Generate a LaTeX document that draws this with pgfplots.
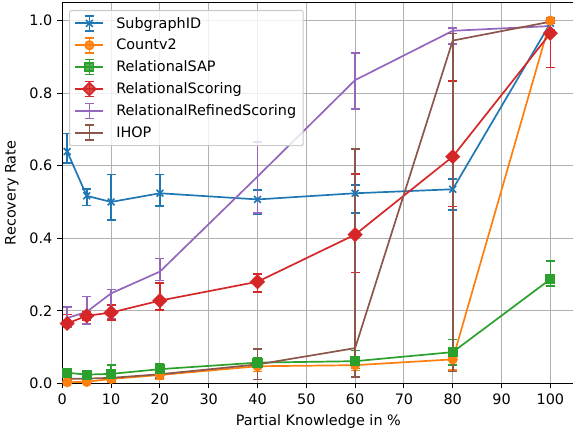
\documentclass[border=0pt]{standalone}
\usepackage{pgfplots}
\pgfplotsset{compat=1.18}
\usepackage{fontspec}
\setmainfont{DejaVu Sans}
\definecolor{c0}{HTML}{1F77B4}
\definecolor{c1}{HTML}{FF7F0E}
\definecolor{c2}{HTML}{2CA02C}
\definecolor{c3}{HTML}{D62728}
\definecolor{c4}{HTML}{9467BD}
\definecolor{c5}{HTML}{8C564B}
\definecolor{gridc}{HTML}{B0B0B0}
\definecolor{legc}{HTML}{CCCCCC}
\begin{document}
\begin{tikzpicture}[font=\fontsize{14.4}{17.3}\selectfont]
\begin{axis}[
  width=512.2pt, height=380.7pt, scale only axis,
  xmin=0, xmax=104.95, ymin=0, ymax=1.0497,
  xtick={0,10,...,100},
  ytick={0,0.2,0.4,0.6,0.8,1.0},
  yticklabel style={xshift=-1.5pt, /pgf/number format/.cd, fixed, fixed zerofill, precision=1},
  xticklabel style={yshift=-2.5pt},
  /pgf/number format/assume math mode=true,
  tick pos=left, tick align=outside,
  major tick length=4.9pt,
  tick style={line width=1.1pt, black},
  axis line style={line width=1.1pt},
  grid=major,
  major grid style={color=gridc, line width=1.1pt},
  xlabel={Partial Knowledge in \%},
  ylabel={Recovery Rate},
  xlabel style={yshift=-3pt},
  ylabel style={yshift=4pt},
  every axis plot/.append style={line width=1.7pt},
  error bars/y dir=both, error bars/y explicit,
  error bars/error bar style={line width=1.6pt},
  error bars/error mark options={line width=1.6pt, mark size=4.5pt, rotate=90},
  legend style={at={(0.0131,0.9808)}, anchor=north west,
    draw=legc, fill=white, fill opacity=0.8, text opacity=1, rounded corners=2pt,
    line width=1.1pt, row sep=5.2pt, inner xsep=5pt, inner ysep=4.5pt,
    /tikz/every odd column/.append style={column sep=10pt}},
  legend cell align=left,
  legend image code/.code={
    \draw[#1, mark=none] (0pt,0pt) -- (28pt,0pt);
    \draw[#1, mark=none] (14pt,-7.5pt) -- (14pt,7.5pt);
    \draw[#1, mark=none] (9.5pt,-7.5pt) -- (18.5pt,-7.5pt);
    \draw[#1, mark=none] (9.5pt,7.5pt) -- (18.5pt,7.5pt);
    \draw[#1, only marks] plot coordinates {(14pt,0pt)};
  },
]
\coordinate (O) at (rel axis cs:0,0);

\addplot[color=c0, mark=x, mark size=4.8pt, mark options={line width=1.6pt}] coordinates {
(1,0.639) += (0,0.050) -= (0,0.032)
(5,0.517) += (0,0.018) -= (0,0.027)
(10,0.500) += (0,0.076) -= (0,0.050)
(20,0.524) += (0,0.052) -= (0,0.035)
(40,0.507) += (0,0.026) -= (0,0.041)
(60,0.524) += (0,0.023) -= (0,0.055)
(80,0.535) += (0,0.028) -= (0,0.057)
(100,0.993) += (0,0.015) -= (0,0.025)
};
\addlegendentry{SubgraphID}

\addplot[color=c1, mark=*, mark size=4.2pt] coordinates {
(1,0.003) += (0,0.004) -= (0,0.003)
(5,0.004) += (0,0.005) -= (0,0.004)
(10,0.012) += (0,0.008) -= (0,0.008)
(20,0.023) += (0,0.027) -= (0,0.011)
(40,0.047) += (0,0.014) -= (0,0.015)
(60,0.050) += (0,0.015) -= (0,0.015)
(80,0.066) += (0,0.030) -= (0,0.030)
(100,1.000) += (0,0.004) -= (0,0.004)
};
\addlegendentry{Countv2}

\addplot[color=c2, mark=square*, mark size=4.2pt] coordinates {
(1,0.029) += (0,0.010) -= (0,0.010)
(5,0.024) += (0,0.008) -= (0,0.008)
(10,0.026) += (0,0.024) -= (0,0.010)
(20,0.039) += (0,0.014) -= (0,0.012)
(40,0.057) += (0,0.012) -= (0,0.012)
(60,0.061) += (0,0.029) -= (0,0.020)
(80,0.086) += (0,0.035) -= (0,0.036)
(100,0.287) += (0,0.050) -= (0,0.018)
};
\addlegendentry{RelationalSAP}

\addplot[color=c3, mark=square*, mark size=4.5pt, mark options={rotate=45}] coordinates {
(1,0.165) += (0,0.025) -= (0,0.010)
(5,0.186) += (0,0.012) -= (0,0.012)
(10,0.195) += (0,0.021) -= (0,0.020)
(20,0.228) += (0,0.049) -= (0,0.026)
(40,0.280) += (0,0.021) -= (0,0.029)
(60,0.410) += (0,0.167) -= (0,0.105)
(80,0.625) += (0,0.209) -= (0,0.138)
(100,0.965) += (0,0.030) -= (0,0.094)
};
\addlegendentry{RelationalScoring}

\addplot[color=c4, mark=none] coordinates {
(1,0.180) += (0,0.030) -= (0,0.025)
(5,0.197) += (0,0.042) -= (0,0.034)
(10,0.248) += (0,0.011) -= (0,0.069)
(20,0.308) += (0,0.036) -= (0,0.025)
(40,0.570) += (0,0.096) -= (0,0.100)
(60,0.836) += (0,0.074) -= (0,0.080)
(80,0.972) += (0,0.007) -= (0,0.036)
(100,0.985) += (0,0.010) -= (0,0.010)
};
\addlegendentry{RelationalRefinedScoring}

\addplot[color=c5, mark=none] coordinates {
(1,0.012) += (0,0.005) -= (0,0.005)
(5,0.013) += (0,0.005) -= (0,0.005)
(10,0.015) += (0,0.006) -= (0,0.006)
(20,0.025) += (0,0.010) -= (0,0.010)
(40,0.052) += (0,0.042) -= (0,0.041)
(60,0.097) += (0,0.549) -= (0,0.080)
(80,0.945) += (0,0.020) -= (0,0.913)
(100,0.997) += (0,0.005) -= (0,0.005)
};
\addlegendentry{IHOP}
\end{axis}
\pgfresetboundingbox
\path[use as bounding box] (O) ++(-62.3pt,-50.7pt) rectangle ++(573pt,434pt);
\end{tikzpicture}
\end{document}
